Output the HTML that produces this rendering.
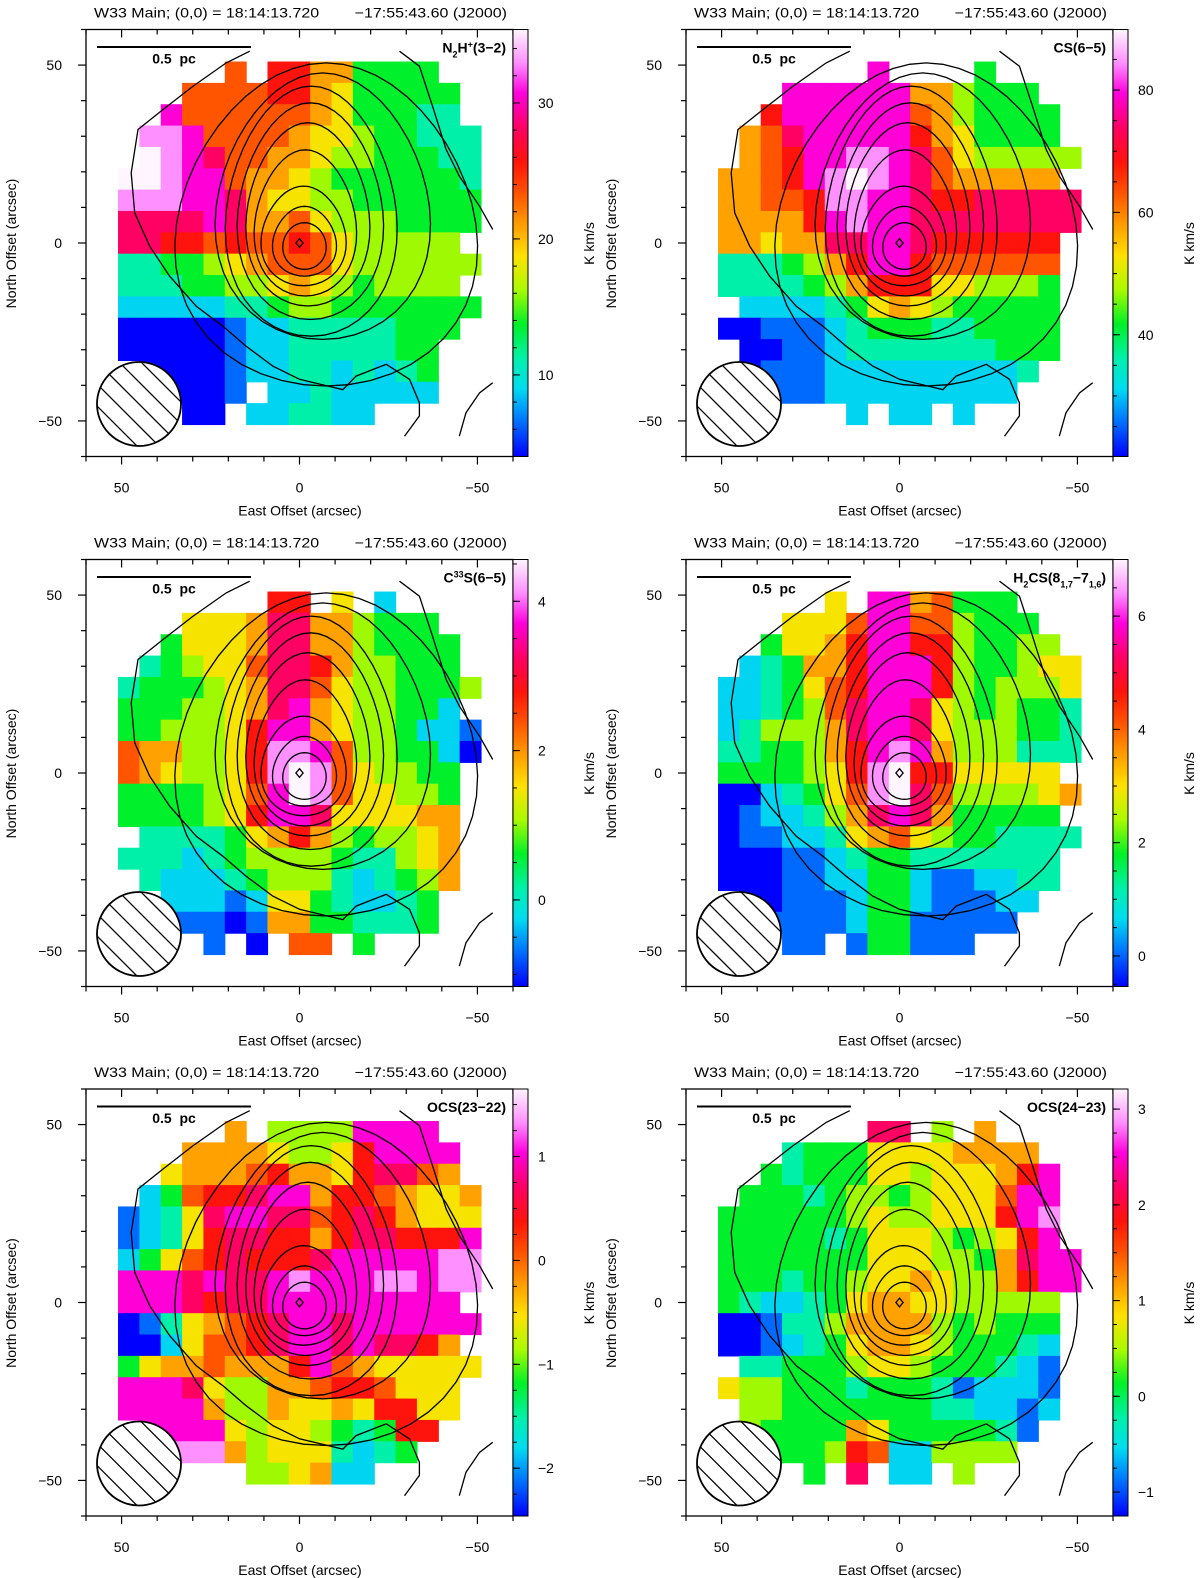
<!DOCTYPE html>
<html><head><meta charset="utf-8">
<style>
html,body{margin:0;padding:0;background:#fff;}
svg{display:block;font-family:"Liberation Sans",sans-serif;}
</style></head>
<body>
<svg id="fig" width="1200" height="1578" viewBox="0 0 1200 1578" xmlns="http://www.w3.org/2000/svg"></svg>
<script>
// ---------- data ----------
const cellOffsets = [48,42,36,30,24,18,12,6,0,-6,-12,-18,-24,-30,-36,-42,-48];
const levelScale = 13;
const n2hLevels = [
".....8.99774444..","...8888997644444.","..b8888887644433.",".ccb8888766544333",".dcba887765544433",
"ddcbb877654444443","cccbba76655444444","aaaaba77865554444","aa99898898655555.","33445678886555555",
"3334455676545555.","22222334554444444","0000012233333444.","000001223333344..",".00001223323234..",
"..0001.22322222..","...00.223322....."];
const csLevels = [
".......b....4....","...bbbbbb775444..","..9bbbbbb8754444.",".78abbbbb9764444.",".789bbccba8655555",
"7789bcdcba877777.","77889ccbba99aaaaa","77779bcbbaaaaaaaa","77677aabba999999.","3334579bb9888888.",
"3333457999665554.",".222234676544444.","0011123444334444.",".001123333333444.",".01112222222223..",
"..111222222222...","......2.22.2....."];
const c33sLevels = [
".......99.6.2....","...6667aa775444..","..46667aa7754444.",".345668aa9755444.","3444567aa86554445",
"4445567ab7655442.","4455569bb76554221","8775569ccb8554420","8765569cdc865544.","4444568bdc866554.",
"4444569bba666677.",".333346797545567.","3332345555433567.",".322234555323457.","..2221266432234..",
"..1110177443334..","....1.0.88.4....."];
const h2csLevels = [
".....6.bb78444...","...6668bb885444..","..46679bb9954455.",".234779bbb9544566","2234689bbb9545556",
"223458abba6545443","235557abba6555443","3344579bcb7555333","4444569cd9966666.","0023468cda8555567",
"0122357aba744444.","01122367865443333","0001123443333333.","0001122442112233.",".00111244211122..",
"..111124411111...","...11.144111....."];
const ocs2322Levels = [
".....7.5555bbbb..","...777765569bbbb.","..6777897769aa87.",".24899abb79987667","1236abbaa89a97666",
"12369aa9979aa999b","24689a999abbbbbcc","bbbabaabcbbbccbcc","bbba9aabbbbbbbbb.","0136789abbabbbbbb",
"0026889abbabaa97.","467787779b8766666","bbba655778998666.","bbbb755766769966.",".bbbb6566543499..",
"..ccc756663234...","......556722....."];
const ocs2423Levels = [
".......aa.5.7....","...344466667777..","..4344466566679b.",".4443455456668bb.","44444456556669bc.",
"444443466654569b.","44444446665547abb","444344566765579bb","4322346776655555.","0013357777545444.",
"0012346776544432.",".334445665444321.","6554443444312221.",".554444444332212.",".54444764444431..",
"..444598225555...","....4.a.22.5....."];

const panelLevels = [n2hLevels, csLevels, c33sLevels, h2csLevels, ocs2322Levels, ocs2423Levels];
const panelVmin = [4.0, 20.1, -1.16, -0.54, -2.46, -1.25];
const panelVmax = [35.4, 89.9, 4.56, 7.0, 1.65, 3.21];
const panelTickLabels = [[10,20,30],[40,60,80],[0,2,4],[0,2,4,6],[-2,-1,0,1],[-1,0,1,2,3]];
const panelMinorStep = [2, 5, 0.5, 0.5, 0.25, 0.25];
const panelNames = ["n2h","cs","c33s","h2cs","ocs-23-22","ocs-24-23"];

// contour rings (arcsec): east edge, west edge, north edge, south edge
const ringEast  = [4.7, 7.5, 10.7, 12.6, 14.9, 17.3, 20.6, 23.4, 34.6];
const ringWest  = [-7.5,-10.3,-13.0,-15.9,-19.6,-23.4,-27.2,-36.5,-49.6];
const ringNorth = [5.7, 10.3, 16.0, 26.2, 33.8, 39.4, 44.1, 47.8, 50.6];
const ringSouth = [-7.4,-9.3,-12.0,-14.9,-17.7,-21.5,-26.2,-27.1,-40.2];
// innermost peak contour (diamond)
const peakContour = [[0,1.2],[1.0,0],[0,-1.2],[-1.0,0]];
// open outer contours (arcsec)
const outerA = [[14.0,53.9],[20.6,50.6],[30.0,44.0],[38.4,37.5],[45.4,31.9],[47.3,19.7],[46.3,8.5],[42.1,-0.9],[36.5,-9.3],[29.0,-17.8],[21.5,-23.4],[15.0,-29.0],[7.5,-34.6],[0,-38.3],[-12.2,-41.2],[-15.9,-37.4],[-24.4,-34.1],[-30.9,-38.3],[-33.7,-44.9],[-33.7,-48.6],[-29.5,-54.3]];
const outerB = [[-28.1,53.9],[-33.7,49.7],[-37.4,38.4],[-41.2,26.3],[-44.9,18.8],[-50.6,10.3],[-54.3,3.8]];
const outerC = [[-44.9,-54.3],[-46.8,-47.7],[-50.6,-42.1],[-54.3,-39.3]];

// ---------- drawing ----------
const NS = "http://www.w3.org/2000/svg";
const svg = document.getElementById('fig');
const S = 427/120;
const cmapPos = [0,0.08,0.16,0.23,0.31,0.39,0.47,0.55,0.62,0.69,0.77,0.85,0.92,1];
const cmapRGB = [[0,0,255],[0,110,255],[0,220,240],[0,240,170],[0,240,40],[170,250,0],[255,225,0],[255,150,0],[255,80,0],[255,20,10],[255,0,100],[255,0,220],[255,140,255],[255,245,255]];
function cmap(t){
  t=Math.max(0,Math.min(1,t));
  for(let i=1;i<cmapPos.length;i++){
    if(t<=cmapPos[i]){
      const f=(t-cmapPos[i-1])/(cmapPos[i]-cmapPos[i-1]);
      const a=cmapRGB[i-1],b=cmapRGB[i];
      return `rgb(${Math.round(a[0]+f*(b[0]-a[0]))},${Math.round(a[1]+f*(b[1]-a[1]))},${Math.round(a[2]+f*(b[2]-a[2]))})`;
    }
  }
  return 'rgb(255,245,255)';
}
function el(tag, attrs, parent){
  const e=document.createElementNS(NS,tag);
  for(const k in attrs) e.setAttribute(k,attrs[k]);
  (parent||svg).appendChild(e); return e;
}
function txt(str, attrs, parent){ const t=el('text',attrs,parent); t.textContent=str; return t; }

const panelOrigins = [[86,29.5],[686,29.5],[86,559.5],[686,559.5],[86,1089],[686,1089]];

function drawPanel(p){
  const ox=panelOrigins[p][0], oy=panelOrigins[p][1];
  const X=a=>ox+(60-a)*S, Y=b=>oy+(60-b)*S;
  const vmin=panelVmin[p], vmax=panelVmax[p];
  const g=el('g',{});
  
  
  const clipId='clip'+p;
  const cp=el('clipPath',{id:clipId},g);
  el('rect',{x:ox,y:oy,width:427,height:427},cp);

  // heatmap
  const hm=el('g',{'clip-path':`url(#${clipId})`},g);
  
  
  const rows=panelLevels[p];
  rows.forEach((row,j)=>{
    for(let i=0;i<row.length;i++){
      const ch=row[i]; if(ch==='.') continue;
      const L=parseInt(ch,16);
      const v=vmin+L/levelScale*(vmax-vmin);
      const a=cellOffsets[i], b=cellOffsets[j];
      const r=el('rect',{x:X(a+3),y:Y(b+3),width:6*S+0.6,height:6*S+0.6,fill:cmap((v-vmin)/(vmax-vmin))},hm);
      
      
    }
  });

  // contours
  const cg=el('g',{'clip-path':`url(#${clipId})`,fill:'none',stroke:'#000','stroke-width':1.3},g);
  
  
  for(let k=0;k<ringEast.length;k++){
    const cx=(ringEast[k]+ringWest[k])/2, rx=(ringEast[k]-ringWest[k])/2;
    const cy=(ringNorth[k]+ringSouth[k])/2, ry=(ringNorth[k]-ringSouth[k])/2;
    const egg=k<1?0.05:0.15;
    let d='';
    for(let s=0;s<=48;s++){
      const th=s/48*2*Math.PI, ux=Math.cos(th), uy=Math.sin(th);
      const a=cx+rx*ux*(1-egg*uy), b=cy+ry*uy;
      d+=(s?'L':'M')+X(a).toFixed(1)+','+Y(b).toFixed(1);
    }
    const c=el('path',{d:d+'Z'},cg);
    
    
  }
  const pk=el('polygon',{points:peakContour.map(q=>X(q[0]).toFixed(1)+','+Y(q[1]).toFixed(1)).join(' ')},cg);
  
  
  [outerA,outerB,outerC].forEach(pts=>{
    const c=el('polyline',{points:pts.map(q=>X(q[0]).toFixed(1)+','+Y(q[1]).toFixed(1)).join(' ')},cg);
    
    
  });

  // beam
  const bx=ox+53, by=oy+374.5, br=42;
  const bclip=el('clipPath',{id:'beam'+p},g);
  el('circle',{cx:bx,cy:by,r:br},bclip);
  const bg=el('g',{},g);
  
  
  el('circle',{cx:bx,cy:by,r:br,fill:'#fff'},bg);
  const hg=el('g',{'clip-path':`url(#beam${p})`,stroke:'#000','stroke-width':1.3},bg);
  for(let k=-8;k<=8;k++){
    const off=k*11;
    el('line',{x1:bx-60+off,y1:by-60-off,x2:bx+60+off,y2:by+60-off},hg);
  }
  el('circle',{cx:bx,cy:by,r:br,fill:'none',stroke:'#000','stroke-width':1.8},bg);

  // box
  const box=el('rect',{x:ox,y:oy,width:427,height:427,fill:'none',stroke:'#000','stroke-width':1.3},g);
  
  

  // axis ticks
  const tg=el('g',{stroke:'#000','stroke-width':1.2},g);
  
  
  for(let a=-60;a<=60;a+=10){
    const major=(a%50===0);
    const len=major?8:5;
    el('line',{x1:X(a),y1:oy+427,x2:X(a),y2:oy+427+len},tg);
    el('line',{x1:X(a),y1:oy,x2:X(a),y2:oy+len},tg);
    el('line',{x1:ox,y1:Y(a),x2:ox-len,y2:Y(a)},tg);
  }
  [50,0,-50].forEach(a=>{
    const lab=(a<0?'\u2212':'')+Math.abs(a);
    const t1=txt(lab,{x:X(a),y:oy+427+36,'text-anchor':'middle','font-size':14},g);
    
    
    const t2=txt(lab,{x:ox-24,y:Y(a)+5,'text-anchor':'end','font-size':14},g);
    
    
  });
  const xt=txt('East Offset (arcsec)',{x:ox+214,y:oy+427+59,'text-anchor':'middle','font-size':14},g);
  
  
  const yt=txt('North Offset (arcsec)',{x:0,y:0,'text-anchor':'middle','font-size':14,transform:`translate(${ox-70},${oy+214}) rotate(-90)`},g);
  
  
  const ht=txt('W33 Main; (0,0) = 18:14:13.720\u00a0\u00a0\u00a0\u00a0\u00a0\u00a0\u00a0\u00a0\u221217:55:43.60 (J2000)',{x:ox+8,y:oy-12,'font-size':14,textLength:413,'lengthAdjust':'spacingAndGlyphs'},g);
  
  

  // scale bar
  const sb=el('line',{x1:ox+11,y1:oy+17.5,x2:ox+165,y2:oy+17.5,stroke:'#000','stroke-width':2},g);
  
  
  const sbt=txt('0.5\u00a0\u00a0pc',{x:ox+88,y:oy+34,'text-anchor':'middle','font-size':14,'font-weight':'bold'},g);
  
  

  // molecule label
  const ml=el('text',{x:ox+420,y:oy+23,'text-anchor':'end','font-size':14,'font-weight':'bold'},g);
  
  
  const parts=[
    [['N',0],['2',1],['H',0],['+',-1],['(3\u22122)',0]],
    [['CS(6\u22125)',0]],
    [['C',0],['33',-1],['S(6\u22125)',0]],
    [['H',0],['2',1],['CS(8',0],['1,7',1],['\u22127',0],['1,6',1],[')',0]],
    [['OCS(23\u221222)',0]],
    [['OCS(24\u221223)',0]]
  ][p];
  let prev=0;
  parts.forEach(([s,sh])=>{
    const ts=el('tspan',{dy:(sh-prev)*5,'font-size':sh?9:14},ml);
    ts.textContent=s; prev=sh;
  });

  // colorbar
  const cbx=ox+427, cbw=15;
  const grad=el('linearGradient',{id:'cb'+p,x1:0,y1:1,x2:0,y2:0},g);
  cmapPos.forEach((t)=>el('stop',{offset:t,'stop-color':cmap(t)},grad));
  const cb=el('rect',{x:cbx,y:oy,width:cbw,height:427,fill:`url(#cb${p})`,stroke:'#000','stroke-width':1},g);
  
  
  const CY=v=>oy+427-(v-vmin)/(vmax-vmin)*427;
  const step=panelMinorStep[p];
  const cbt=el('g',{stroke:'#000','stroke-width':1},g);
  for(let v=Math.ceil(vmin/step)*step; v<=vmax; v+=step){
    el('line',{x1:cbx,y1:CY(v),x2:cbx+4,y2:CY(v)},cbt);
  }
  panelTickLabels[p].forEach(v=>{
    el('line',{x1:cbx,y1:CY(v),x2:cbx+7,y2:CY(v)},cbt);
    const t=txt((v<0?'\u2212':'')+Math.abs(v),{x:cbx+25,y:CY(v)+5,'font-size':14},g);
    
    
  });
  const ut=txt('K km/s',{x:0,y:0,'text-anchor':'middle','font-size':14,transform:`translate(${ox+508},${oy+214}) rotate(-90)`},g);
  
  
}
for(let p=0;p<6;p++) drawPanel(p);
</script>
</body></html>
